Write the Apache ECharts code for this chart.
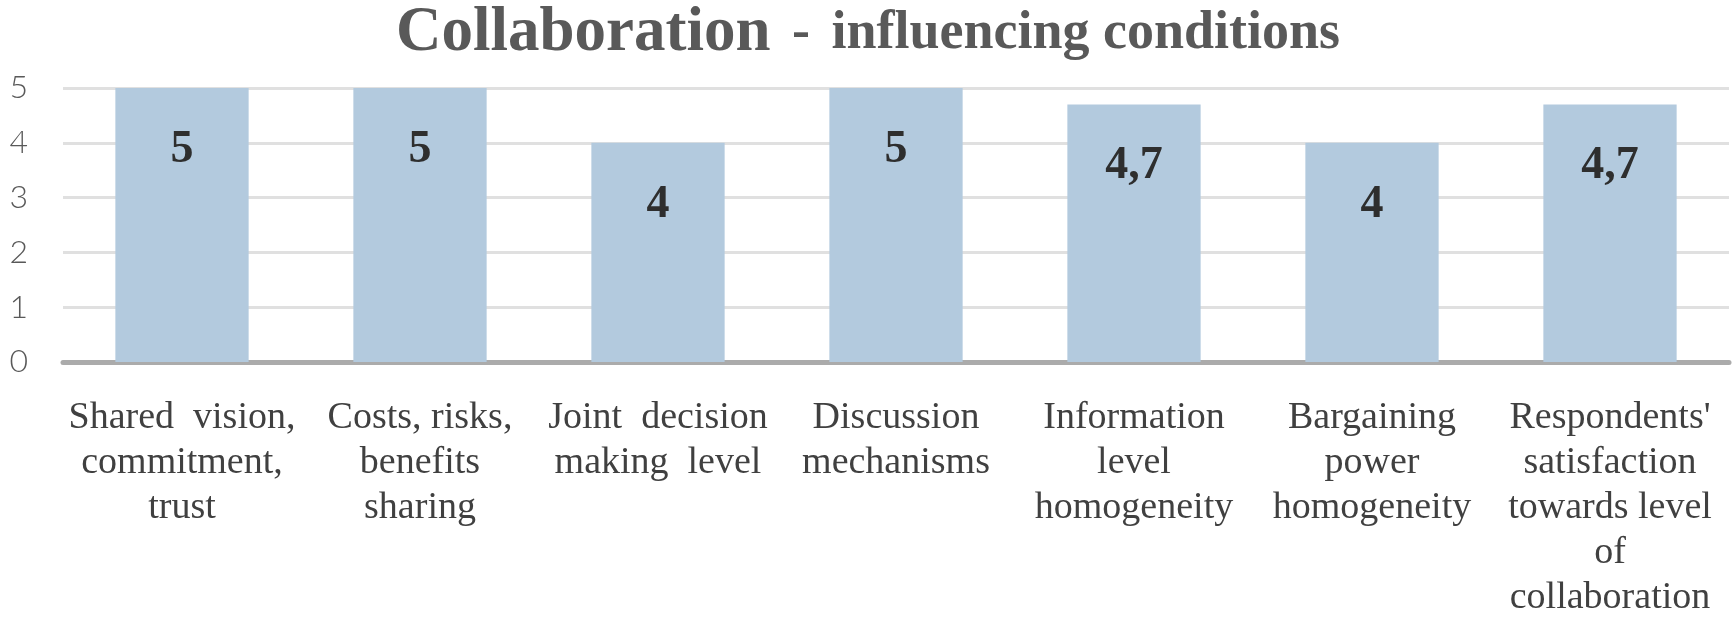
<!DOCTYPE html>
<html><head><meta charset="utf-8">
<script src="https://cdn.jsdelivr.net/npm/echarts@6/dist/echarts.min.js"></script>
<style>html,body{margin:0;padding:0;background:#fff}#c{width:1736px;height:621px}</style>
</head><body><div id="c"></div>
<script>
var categories = [
  "Shared  vision,\ncommitment,\ntrust",
  "Costs, risks,\nbenefits\nsharing",
  "Joint  decision\nmaking  level",
  "Discussion\nmechanisms",
  "Information\nlevel\nhomogeneity",
  "Bargaining\npower\nhomogeneity",
  "Respondents'\nsatisfaction\ntowards level\nof\ncollaboration"
];
var values = [5, 5, 4, 5, 4.7, 4, 4.7];
var yTicks = [0, 1, 2, 3, 4, 5];

var chart = echarts.init(document.getElementById('c'));
chart.setOption({
  animation: false,
  title: {
    text: '{a|Collaboration}{b| -}{c| influencing conditions}',
    left: 'center', top: -3,
    textStyle: {
      rich: {
        a: {fontFamily: 'Liberation Serif', fontWeight: 'bold', fontSize: 63, color: '#595959', padding: [0, 8, 0, 0], verticalAlign: 'bottom'},
        b: {fontFamily: 'Liberation Serif', fontWeight: 'bold', fontSize: 54, color: '#595959', padding: [0, 8, 4, 0], verticalAlign: 'bottom'},
        c: {fontFamily: 'Liberation Serif', fontWeight: 'bold', fontSize: 54, color: '#595959', padding: [0, 0, 4, 0], verticalAlign: 'bottom'}
      }
    }
  },
  grid: {left: 63, right: 7, top: 88, bottom: 249, containLabel: false},
  xAxis: {
    type: 'category', data: categories,
    axisLine: {lineStyle: {color: '#ababab', width: 5}},
    axisTick: {show: false},
    axisLabel: {interval: 0, margin: 34, fontFamily: 'Liberation Serif', fontSize: 38, lineHeight: 45, color: '#404040', align: 'center'}
  },
  yAxis: {
    type: 'value', min: 0, max: 5, interval: 1,
    axisLine: {show: false}, axisTick: {show: false},
    splitLine: {lineStyle: {color: '#e0e0e0', width: 3}},
    axisLabel: {margin: 35, fontFamily: 'Lato', fontWeight: 300, fontSize: 32, color: '#595959',
      formatter: function (v) { return yTicks.indexOf(v) >= 0 ? String(v) : ''; }}
  },
  series: [{
    type: 'bar', data: values, barCategoryGap: '44%',
    itemStyle: {color: '#b3cade'},
    label: {show: true, position: 'insideTop', distance: 39,
      fontFamily: 'Liberation Serif', fontWeight: 'bold', fontSize: 46, color: '#2e2e2e',
      formatter: function (p) { return String(p.value).replace('.', ','); }}
  }]
});
</script></body></html>
